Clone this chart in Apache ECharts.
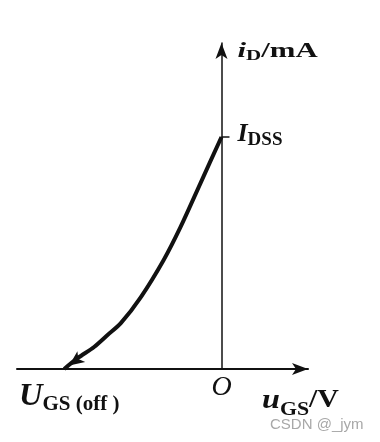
<!DOCTYPE html>
<html><head><meta charset="utf-8">
<script src="https://cdn.jsdelivr.net/npm/echarts@6/dist/echarts.min.js"></script>
<style>html,body{margin:0;padding:0;background:#fff}#c{width:380px;height:442px}</style>
</head><body><div id="c"></div>
<script>
// Transfer characteristic of a JFET: u_GS (V) vs i_D (mA)
const uGS = [-4, -3.65, -3.24, -2.89, -2.56, -2.05, -1.47, -1.04, -0.53, 0];
const iD  = [0, 0.19, 0.38, 0.59, 0.79, 1.24, 1.88, 2.45, 3.21, 4];
const xTickValues = [-4, 0];
const xTickLabels = ['{U|U}{sub|GS (off )}', '{O|O}'];
const yTickValues = [4];
const yTickLabels = ['{I|I}{sub|DSS}'];
const xName = '{u|u}{sub|GS}{t|/V}';
const yName = '{i|i}{sub|D}{t|/mA}';

const SERIF = '"Liberation Serif", "DejaVu Serif", serif';
const INK = '#111';
const chart = echarts.init(document.getElementById('c'), null, {renderer: 'canvas'});

const curve = uGS.map((u, k) => k === 0
  ? {value: [u, iD[k]], symbol: 'arrow', symbolSize: [10, 15], symbolRotate: 126, symbolOffset: [5, -3.5], symbolKeepAspect: true}
  : {value: [u, iD[k]], symbol: 'none'});

chart.setOption({
  animation: false,
  backgroundColor: '#fff',
  grid: {left: 17, right: 72, top: 43, bottom: 73},
  xAxis: {
    type: 'value', min: -5.2, max: 2.2,
    splitLine: {show: false},
    axisLine: {onZero: true, lineStyle: {color: INK, width: 2}, symbol: ['none', 'arrow'], symbolSize: [9, 16]},
    axisTick: {show: false},
    axisLabel: {show: false}
  },
  yAxis: {
    type: 'value', min: 0, max: 5.62,
    splitLine: {show: false},
    axisLine: {onZero: true, lineStyle: {color: INK, width: 1.5}, symbol: ['none', 'arrow'], symbolSize: [9, 16]},
    axisTick: {show: true, customValues: yTickValues, inside: true, length: 8, lineStyle: {color: INK, width: 1.5}},
    axisLabel: {show: false}
  },
  series: [{
    type: 'line', data: curve, smooth: 0.3, showSymbol: true, showAllSymbol: true,
    lineStyle: {color: INK, width: 4}, itemStyle: {color: INK, borderWidth: 0}
  }]
});

const px = v => chart.convertToPixel({xAxisIndex: 0}, v);
const py = v => chart.convertToPixel({yAxisIndex: 0}, v);
const x0 = px(0), y0 = py(0);
const sub = (size, pad) => ({fontFamily: SERIF, fontWeight: 'bold', fontSize: size, fill: INK, padding: [pad, 0, 0, 0], verticalAlign: 'top'});
const main = (size, italic) => ({fontFamily: SERIF, fontWeight: 'bold', fontStyle: italic ? 'italic' : 'normal', fontSize: size, fill: INK, verticalAlign: 'top'});

chart.setOption({
  graphic: [
    // y axis name
    {type: 'text', x: x0 + 16, y: 40, scaleX: 1.4, style: {
      text: yName, align: 'left', verticalAlign: 'top',
      rich: {i: main(22, true), sub: sub(15, 9), t: main(22, false)}}},
    // x axis name
    {type: 'text', x: 262, y: y0 + 18, scaleX: 1.15, style: {
      text: xName, align: 'left', verticalAlign: 'top',
      rich: {u: main(28, true), sub: sub(19, 14), t: main(26, false)}}},
    // x tick labels
    {type: 'text', x: px(xTickValues[0]) + 5, y: y0 + 12, scaleX: 1.05, style: {
      text: xTickLabels[0], align: 'center', verticalAlign: 'top',
      rich: {U: main(31, true), sub: sub(20, 14)}}},
    {type: 'text', x: px(xTickValues[1]), y: y0 + 5, style: {
      text: xTickLabels[1], align: 'center', verticalAlign: 'top',
      rich: {O: {fontFamily: SERIF, fontStyle: 'italic', fontSize: 28, fill: INK, verticalAlign: 'top'}}}},
    // y tick label
    {type: 'text', x: x0 + 16, y: py(yTickValues[0]) - 16, style: {
      text: yTickLabels[0], align: 'left', verticalAlign: 'top',
      rich: {I: main(26, true), sub: sub(19, 10)}}},
    // watermark
    {type: 'text', x: 270, y: 417, style: {
      text: 'CSDN @_jym', font: '15px "Liberation Sans", Arial, sans-serif', fill: '#a8a8a8'}}
  ]
});
</script></body></html>
